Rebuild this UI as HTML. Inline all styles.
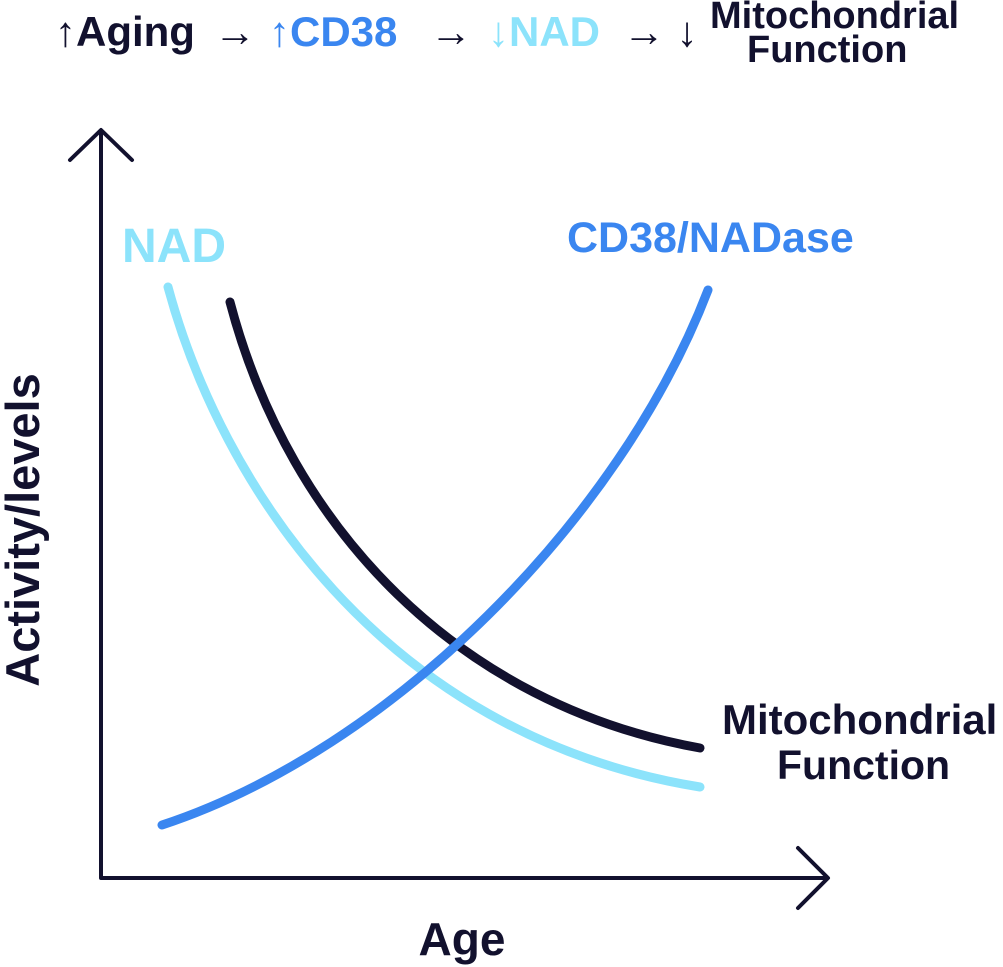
<!DOCTYPE html>
<html><head><style>
html,body{margin:0;padding:0;background:#fff;}
svg{display:block;}
text{font-family:"Liberation Sans",sans-serif;font-weight:bold;}
</style></head><body>
<svg width="1003" height="967" viewBox="0 0 1003 967" xmlns="http://www.w3.org/2000/svg">
<g font-size="42">
<text x="55" y="46" fill="#12112e">↑Aging</text>
<text x="214" y="46" fill="#12112e" font-weight="normal">→</text>
<text x="269" y="46" fill="#3a86f0">↑CD38</text>
<text x="430" y="46" fill="#12112e" font-weight="normal">→</text>
<text x="488" y="46" fill="#8ce3fb">↓NAD</text>
<text x="623" y="46" fill="#12112e" font-weight="normal">→ ↓</text>
</g>
<text x="710" y="28" font-size="38" fill="#12112e">Mitochondrial</text>
<text x="747" y="62" font-size="38" fill="#12112e">Function</text>
<g stroke="#12112e" stroke-width="4" fill="none" stroke-linecap="round" stroke-linejoin="round">
<path d="M101,132 L101,878 L826,878"/>
<path d="M70,160 L101,130 L132,160"/>
<path d="M798,848 L828,878 L798,908"/>
</g>
<g fill="none" stroke-width="9" stroke-linecap="round">
<path d="M168,287 C220,480 380,735 700,787" stroke="#8ce3fb"/>
<path d="M230,302 C290,530 460,705 700,748" stroke="#12112e"/>
<path d="M162,825 C390,750 620,520 708,290" stroke="#3a86f0"/>
</g>
<text x="122" y="262" font-size="48" fill="#8ce3fb">NAD</text>
<text x="567" y="252" font-size="43" fill="#3a86f0">CD38/NADase</text>
<text x="722" y="734" font-size="42" fill="#12112e">Mitochondrial</text>
<text x="777" y="779" font-size="41" fill="#12112e">Function</text>
<text x="462" y="955" font-size="46" fill="#12112e" text-anchor="middle">Age</text>
<text transform="translate(39,530) rotate(-90)" font-size="47" fill="#12112e" text-anchor="middle">Activity/levels</text>
</svg>
</body></html>
